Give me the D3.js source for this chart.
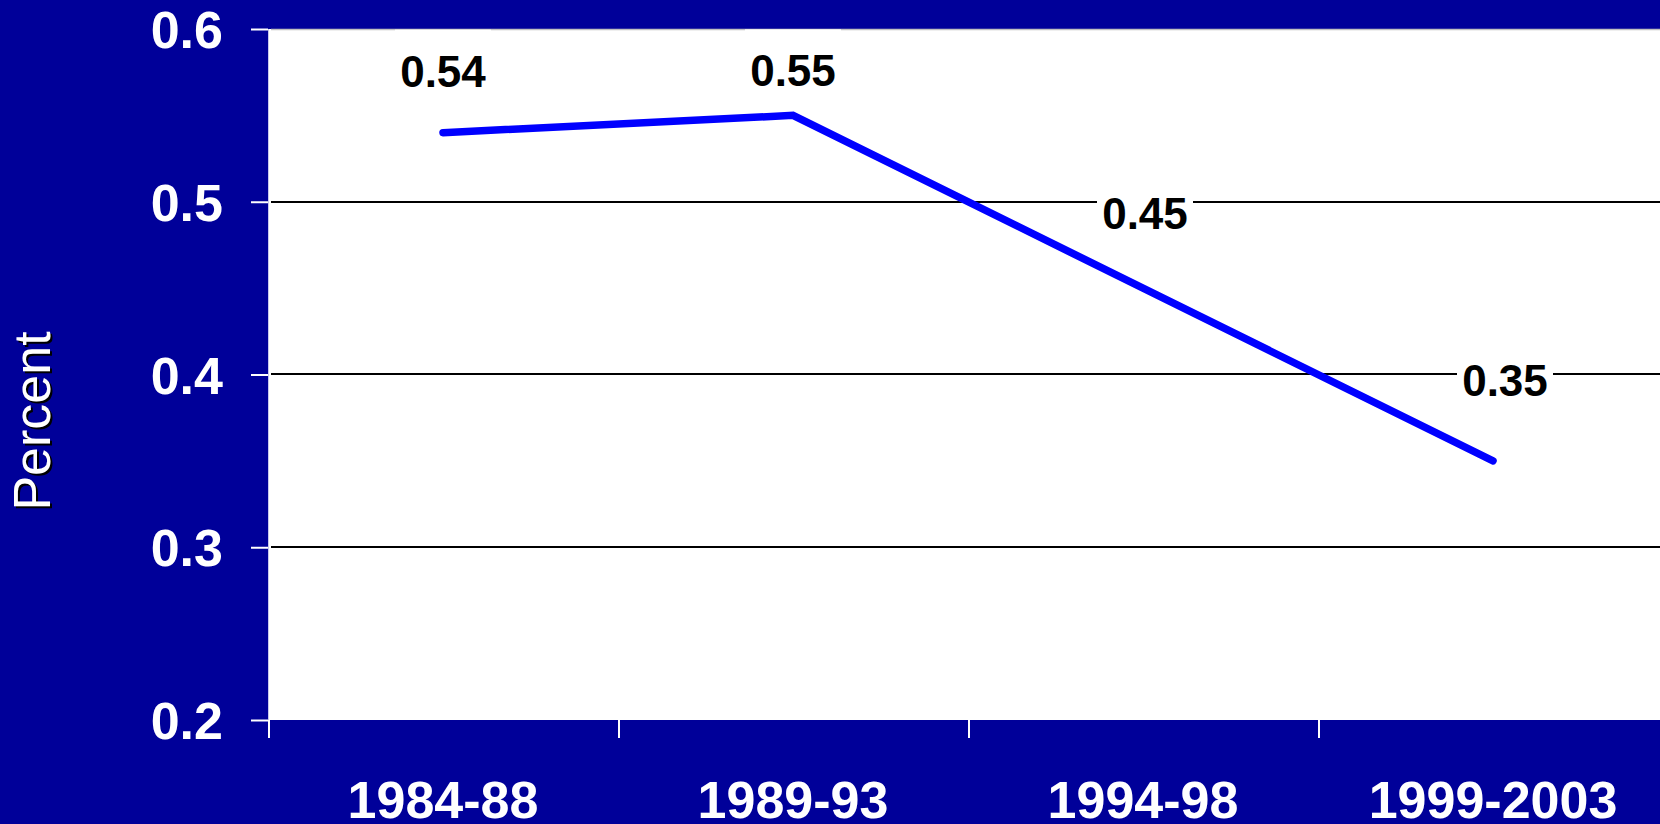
<!DOCTYPE html>
<html><head><meta charset="utf-8">
<script src="https://cdn.jsdelivr.net/npm/d3@7"></script>
<style>
html,body{margin:0;padding:0;background:#000099;overflow:hidden;}
svg{display:block;}
text{font-family:"Liberation Sans",Arial,sans-serif;}
</style></head>
<body>
<svg id="chart" width="1660" height="824"></svg>
<script>
const categories = ["1984-88", "1989-93", "1994-98", "1999-2003"];
const values = [0.54, 0.55, 0.45, 0.35];
const valueLabels = ["0.54", "0.55", "0.45", "0.35"];
const yTicks = [0.2, 0.3, 0.4, 0.5, 0.6];
const yTickLabels = ["0.2", "0.3", "0.4", "0.5", "0.6"];
const yTitle = "Percent";

// layout (not data)
const labelLift = [46, 29, 59, 65];
const labelShift = [0, 0, 2, 12];
const W = 1660, H = 824;
const plot = {left: 268, top: 29, right: 1668, bottom: 720};

const svg = d3.select("#chart");
svg.append("rect").attr("width", W).attr("height", H).attr("fill", "#000099");

const x = d3.scaleBand().domain(categories).range([plot.left, plot.right]).padding(0);
const y = d3.scaleLinear().domain([0.2, 0.6]).range([plot.bottom, plot.top]);

// plot area
svg.append("rect")
  .attr("x", plot.left).attr("y", plot.top)
  .attr("width", W - plot.left).attr("height", plot.bottom - plot.top)
  .attr("fill", "#ffffff");
svg.append("line")
  .attr("x1", plot.left + 0.5).attr("x2", plot.left + 0.5)
  .attr("y1", plot.top).attr("y2", plot.bottom)
  .attr("stroke", "#c8c8ee").attr("stroke-width", 1);

// gridlines
svg.append("g").selectAll("line").data(yTicks.filter(v => v > 0.2)).join("line")
  .attr("x1", plot.left + 3).attr("x2", W)
  .attr("y1", d => Math.round(y(d)) + (d === 0.6 ? 0.5 : 0))
  .attr("y2", d => Math.round(y(d)) + (d === 0.6 ? 0.5 : 0))
  .attr("stroke", d => d === 0.6 ? "#c0c0c0" : "#000000")
  .attr("stroke-width", d => d === 0.6 ? 1.5 : 2);

// y axis
const yAxis = d3.axisLeft(y).tickValues(yTicks)
  .tickFormat((d, i) => yTickLabels[i]).tickSize(17).tickPadding(28);
const gy = svg.append("g").attr("transform", `translate(${plot.left},0)`).call(yAxis);
gy.select(".domain").remove();
gy.selectAll(".tick line").attr("stroke", "#ffffff").attr("stroke-width", 2);
gy.selectAll(".tick text").attr("fill", "#ffffff")
  .style("font-size", "52px").style("font-weight", "bold")
  .attr("dy", "0.36em");

// x axis
const xAxis = d3.axisBottom(x).tickSize(0).tickPadding(0);
const gx = svg.append("g").attr("transform", `translate(0,${plot.bottom})`).call(xAxis);
gx.select(".domain").remove();
gx.selectAll(".tick text").attr("fill", "#ffffff")
  .style("font-size", "52px").style("font-weight", "bold")
  .attr("y", 98).attr("dy", 0);
svg.append("g").selectAll("line").data(categories).join("line")
  .attr("x1", d => x(d) + 1).attr("x2", d => x(d) + 1)
  .attr("y1", plot.bottom).attr("y2", plot.bottom + 18)
  .attr("stroke", "#ffffff").attr("stroke-width", 2);

// y title with shadow
const tx = 50, ty = 421;
svg.append("text").attr("transform", `translate(${tx + 2},${ty + 2}) rotate(-90)`)
  .attr("text-anchor", "middle").attr("fill", "#000000")
  .style("font-size", "52px").text(yTitle);
svg.append("text").attr("transform", `translate(${tx},${ty}) rotate(-90)`)
  .attr("text-anchor", "middle").attr("fill", "#ffffff")
  .style("font-size", "52px").text(yTitle);

// line
const cx = d => x(d) + x.bandwidth() / 2;
const line = d3.line().x(d => cx(d.c)).y(d => y(d.v));
const pts = categories.map((c, i) => ({c, v: values[i]}));
svg.append("path").datum(pts)
  .attr("d", line).attr("fill", "none")
  .attr("stroke", "#0000ff").attr("stroke-width", 7.5)
  .attr("stroke-linecap", "round").attr("stroke-linejoin", "miter");

// value labels with white boxes
const lg = svg.append("g");
pts.forEach((p, i) => {
  const bx = cx(p.c) + labelShift[i], by = y(p.v) - labelLift[i];
  const top = Math.max(plot.top, by - 57);
  lg.append("rect").attr("x", bx - 48).attr("y", top)
    .attr("width", 96).attr("height", by + 8 - top)
    .attr("fill", "#ffffff");
  lg.append("text").attr("x", bx).attr("y", by)
    .attr("text-anchor", "middle").attr("fill", "#000000")
    .style("font-size", "44px").style("font-weight", "bold")
    .text(valueLabels[i]);
});
</script>
</body></html>
